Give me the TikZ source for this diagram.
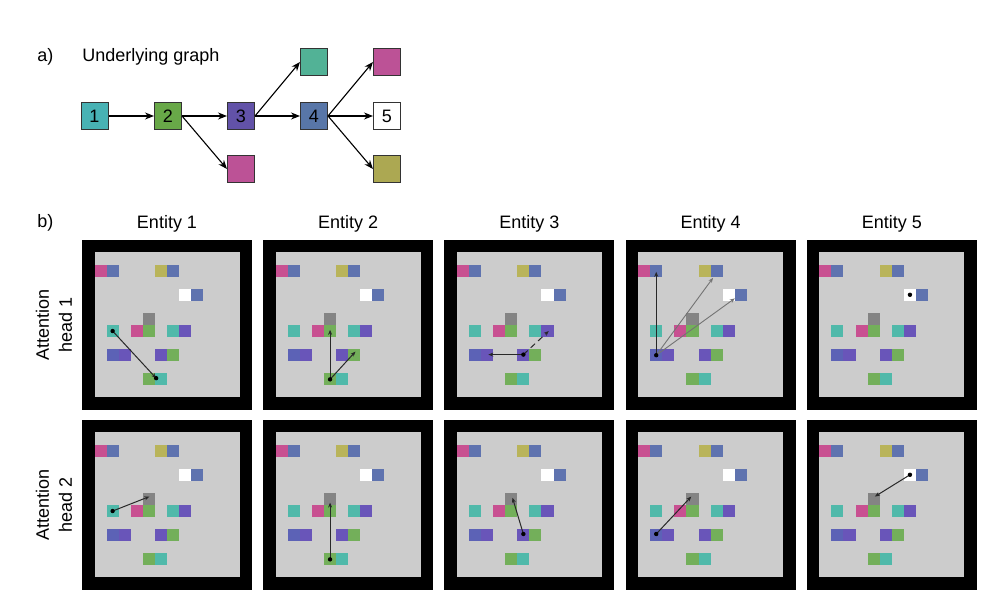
\documentclass[tikz,border=0pt]{standalone}
\usepackage{fontspec}
\setmainfont{Liberation Sans}
\usetikzlibrary{arrows.meta}
\definecolor{nTeal}{RGB}{72,178,180}
\definecolor{nGreen}{RGB}{104,168,72}
\definecolor{nPurple}{RGB}{98,82,168}
\definecolor{nBlue}{RGB}{88,118,168}
\definecolor{nTealG}{RGB}{82,178,150}
\definecolor{nPink}{RGB}{188,82,150}
\definecolor{nOlive}{RGB}{172,168,82}
\definecolor{panelgray}{RGB}{204,204,204}
\definecolor{cGray}{RGB}{132,132,132}
\definecolor{cPink}{RGB}{200,80,145}
\definecolor{cBlue}{RGB}{95,115,175}
\definecolor{cYellow}{RGB}{185,180,90}
\definecolor{cCyan}{RGB}{80,185,170}
\definecolor{cGreen}{RGB}{115,175,90}
\definecolor{cPurple}{RGB}{105,85,185}
\definecolor{cBlueB}{RGB}{92,98,182}
\definecolor{lineGray}{RGB}{40,40,40}
\newcommand{\panelcells}{%
  \foreach \c/\r/\col in {0/1/cPink,1/1/cBlue,5/1/cYellow,6/1/cBlue,7/3/white,8/3/cBlue,
      4/5/cGray,1/6/cCyan,3/6/cPink,4/6/cGreen,6/6/cCyan,7/6/cPurple,
      1/8/cBlueB,2/8/cPurple,5/8/cPurple,6/8/cGreen,4/10/cGreen,5/10/cCyan}
    {\fill[\col] (\c,\r) rectangle ++(1,1);}%
}
\newcommand{\paneldraw}[3]{% x, y, name
  \fill[black] (#1,#2) rectangle ++(170,170);
  \fill[panelgray] (#1+12.5,#2+12.5) rectangle ++(145,145);
  \coordinate (#3) at (#1+12.5,#2+12.5);
}
\begin{document}
\begin{tikzpicture}[x=0.5pt,y=-0.5pt,
  font=\fontsize{9}{11.5}\selectfont,
  gnode/.style={draw=black!80, line width=0.5pt, minimum size=13.5pt, inner sep=0pt},
  garrow/.style={draw=black, line width=0.55pt, -{Stealth[length=4.5pt,width=3.5pt]}},
  lbl/.style={inner sep=0pt},
  att/.style={draw=lineGray, line width=0.5pt, -{Stealth[length=2.5pt,width=2pt]}},
  attl/.style={draw=black!55, line width=0.45pt, -{Stealth[length=2.5pt,width=2pt]}},
  qdot/.style={fill=black, radius=1.1pt}]
\useasboundingbox (0,0) rectangle (1001,613);
\fill[white] (0,0) rectangle (1001,613);

% ---------- a) graph ----------
\node[lbl, anchor=west] (la) at (37,57) {a)};
\node[lbl, anchor=west] (title) at (82,57) {Underlying graph};
\node[gnode, fill=nTeal] (n1) at (94.5,116) {1};
\node[gnode, fill=nGreen] (n2) at (168,116) {2};
\node[gnode, fill=nPurple] (n3) at (241,116) {3};
\node[gnode, fill=nBlue] (n4) at (314,116) {4};
\node[gnode, fill=white] (n5) at (387,116) {5};
\node[gnode, fill=nTealG] (t3) at (314,62) {};
\node[gnode, fill=nPink] (p2) at (241,169) {};
\node[gnode, fill=nPink] (p4) at (387,62) {};
\node[gnode, fill=nOlive] (o4) at (387,169) {};
\draw[garrow] (n1) -- (n2);
\draw[garrow] (n2) -- (n3);
\draw[garrow] (n2.east) -- (p2.west);
\draw[garrow] (n3) -- (n4);
\draw[garrow] (n3.east) -- (t3.west);
\draw[garrow] (n4) -- (n5);
\draw[garrow] (n4.east) -- (p4.west);
\draw[garrow] (n4.east) -- (o4.west);

% ---------- b) labels ----------
\node[lbl, anchor=west] (lb) at (37,223) {b)};
\foreach \i/\x in {1/167,2/348.2,3/529.4,4/710.6,5/891.8}
  \node[lbl] (e\i) at (\x,224) {Entity \i};
\node[lbl, rotate=90, align=center] (h1) at (54,325) {Attention\\head 1};
\node[lbl, rotate=90, align=center] (h2) at (54,505) {Attention\\head 2};

% ---------- panels ----------
\foreach \i/\x in {1/82,2/263.2,3/444.4,4/625.6,5/806.8}{
  \paneldraw{\x}{240}{A\i}
  \paneldraw{\x}{420}{B\i}
}
% cell contents, cell size = 145/12 px
\foreach \p in {A1,A2,A3,A4,A5,B1,B2,B3,B4,B5}{
  \begin{scope}[shift={(\p)}, x=6.0417pt, y=-6.0417pt]
    \panelcells
  \end{scope}
}

% attention, head 1
\begin{scope}[shift={(A1)}, x=6.0417pt, y=-6.0417pt]
  \coordinate (a1q) at (1.5,6.5); \coordinate (a1t) at (5.1,10.4);
  \draw[att] (a1q) -- (a1t); \fill[qdot] (a1q) circle; \fill[qdot] (a1t) circle;
\end{scope}
\begin{scope}[shift={(A2)}, x=6.0417pt, y=-6.0417pt]
  \coordinate (a2q) at (4.5,10.5); \coordinate (a2t) at (4.5,6.4); \coordinate (a2u) at (6.6,8.2);
  \draw[att] (a2q) -- (a2t); \draw[att] (a2q) -- (a2u); \fill[qdot] (a2q) circle;
\end{scope}
\begin{scope}[shift={(A3)}, x=6.0417pt, y=-6.0417pt]
  \coordinate (a3q) at (5.5,8.45); \coordinate (a3t) at (2.6,8.45); \coordinate (a3u) at (7.6,6.5);
  \draw[att] (a3q) -- (a3t); \draw[att, densely dashed] (a3q) -- (a3u); \fill[qdot] (a3q) circle;
\end{scope}
\begin{scope}[shift={(A4)}, x=6.0417pt, y=-6.0417pt]
  \coordinate (a4q) at (1.5,8.5); \coordinate (a4t) at (1.5,1.6);
  \coordinate (a4u) at (6.2,2.1); \coordinate (a4v) at (8.0,3.8);
  \draw[att] (a4q) -- (a4t); \draw[attl] (a4q) -- (a4u); \draw[attl] (a4q) -- (a4v);
  \fill[qdot] (a4q) circle;
\end{scope}
\begin{scope}[shift={(A5)}, x=6.0417pt, y=-6.0417pt]
  \coordinate (a5q) at (7.5,3.5); \fill[qdot] (a5q) circle;
\end{scope}

% attention, head 2
\begin{scope}[shift={(B1)}, x=6.0417pt, y=-6.0417pt]
  \coordinate (b1q) at (1.5,6.5); \coordinate (b1t) at (4.55,5.3);
  \draw[att] (b1q) -- (b1t); \fill[qdot] (b1q) circle;
\end{scope}
\begin{scope}[shift={(B2)}, x=6.0417pt, y=-6.0417pt]
  \coordinate (b2q) at (4.5,10.5); \coordinate (b2t) at (4.5,5.8);
  \draw[att] (b2q) -- (b2t); \fill[qdot] (b2q) circle;
\end{scope}
\begin{scope}[shift={(B3)}, x=6.0417pt, y=-6.0417pt]
  \coordinate (b3q) at (5.5,8.4); \coordinate (b3t) at (4.6,5.4);
  \draw[att] (b3q) -- (b3t); \fill[qdot] (b3q) circle;
\end{scope}
\begin{scope}[shift={(B4)}, x=6.0417pt, y=-6.0417pt]
  \coordinate (b4q) at (1.5,8.4); \coordinate (b4t) at (4.4,5.3);
  \draw[att] (b4q) -- (b4t); \fill[qdot] (b4q) circle;
\end{scope}
\begin{scope}[shift={(B5)}, x=6.0417pt, y=-6.0417pt]
  \coordinate (b5q) at (7.5,3.5); \coordinate (b5t) at (4.6,5.3);
  \draw[att] (b5q) -- (b5t); \fill[qdot] (b5q) circle;
\end{scope}
\end{tikzpicture}
\end{document}
